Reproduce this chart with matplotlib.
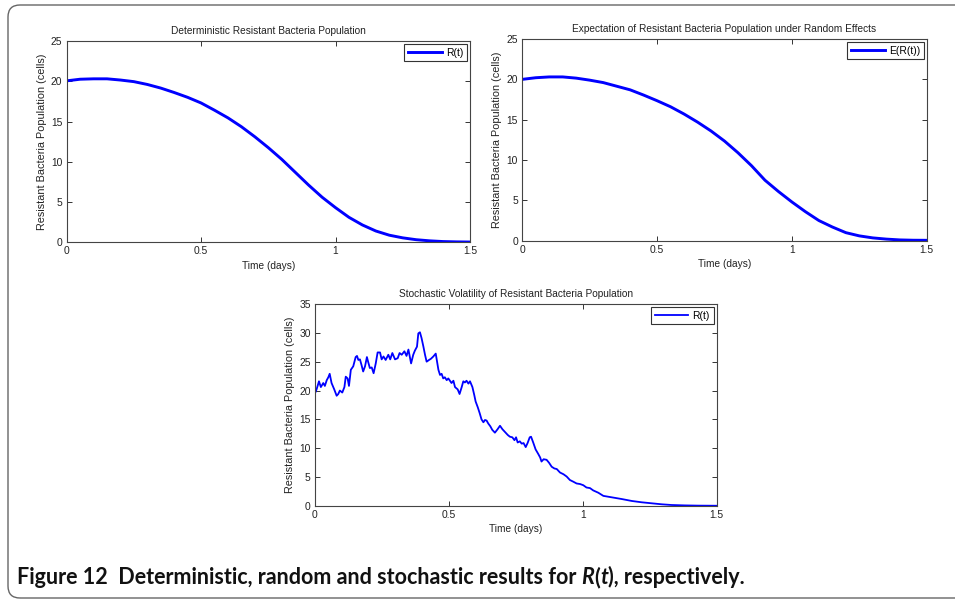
import numpy as np
import matplotlib
matplotlib.use("Agg")
import matplotlib.pyplot as plt
from matplotlib.patches import FancyBboxPatch
from matplotlib.text import Annotation
from matplotlib.transforms import IdentityTransform

plt.rcParams['font.family'] = ['Liberation Sans', 'DejaVu Sans']

# time grid of the deterministic / expectation curves (days)
t_grid = np.linspace(0, 1.5, 31)

# deterministic resistant population R(t)
r_det = [20.05, 20.25, 20.3, 20.3, 20.15, 19.95, 19.6, 19.15, 18.6, 18.0,
         17.3, 16.4, 15.45, 14.35, 13.1, 11.75, 10.3, 8.7, 7.1, 5.6,
         4.3, 3.1, 2.15, 1.4, 0.88, 0.55, 0.32, 0.18, 0.09, 0.05, 0.03]

# expectation E(R(t)) under random effects
r_exp = [20.0, 20.2, 20.3, 20.3, 20.15, 19.9, 19.6, 19.15, 18.7, 18.05,
         17.35, 16.6, 15.7, 14.7, 13.6, 12.35, 10.9, 9.3, 7.5, 6.1,
         4.8, 3.6, 2.5, 1.7, 1.0, 0.6, 0.35, 0.2, 0.1, 0.06, 0.05]

# one stochastic sample path of R(t)
t_sto = [0.000, 0.006, 0.015, 0.022, 0.031, 0.037, 0.044, 0.050, 0.055, 0.062,
         0.072, 0.081, 0.087, 0.093, 0.102, 0.110, 0.115, 0.122, 0.127, 0.134,
         0.143, 0.152, 0.157, 0.162, 0.168, 0.174, 0.180, 0.187, 0.194, 0.199,
         0.205, 0.212, 0.219, 0.227, 0.234, 0.243, 0.249, 0.256, 0.264, 0.274,
         0.281, 0.289, 0.299, 0.309, 0.316, 0.324, 0.334, 0.342, 0.349, 0.359,
         0.367, 0.373, 0.381, 0.386, 0.392, 0.398, 0.405, 0.411, 0.417, 0.426,
         0.433, 0.442, 0.451, 0.456, 0.461, 0.467, 0.473, 0.479, 0.485, 0.492,
         0.498, 0.510, 0.517, 0.523, 0.533, 0.540, 0.548, 0.554, 0.560, 0.566,
         0.573, 0.579, 0.588, 0.595, 0.600, 0.608, 0.615, 0.622, 0.629, 0.635,
         0.641, 0.647, 0.655, 0.662, 0.672, 0.682, 0.691, 0.700, 0.710, 0.720,
         0.728, 0.737, 0.745, 0.751, 0.757, 0.765, 0.772, 0.779, 0.787, 0.794,
         0.802, 0.807, 0.815, 0.824, 0.834, 0.841, 0.846, 0.854, 0.865, 0.874,
         0.884, 0.894, 0.903, 0.915, 0.928, 0.940, 0.952, 0.965, 0.977, 0.990,
         1.002, 1.014, 1.027, 1.039, 1.058, 1.077, 1.108, 1.146, 1.183, 1.220,
         1.257, 1.295, 1.332, 1.381, 1.430, 1.500]
r_sto = [19.5, 20.2, 21.6, 20.6, 21.3, 20.8, 21.8, 22.3, 22.9, 21.3,
         20.2, 19.1, 19.4, 20.0, 19.65, 20.6, 22.4, 22.1, 20.8, 23.6,
         24.2, 25.8, 26.0, 25.3, 25.4, 24.4, 23.3, 24.2, 25.8, 24.9,
         23.9, 24.0, 23.0, 24.7, 26.6, 26.6, 25.4, 25.9, 25.3, 26.2,
         25.4, 26.5, 25.4, 25.6, 26.5, 26.2, 26.8, 26.0, 27.1, 24.7,
         26.2, 26.9, 27.6, 29.9, 30.1, 29.1, 27.6, 26.2, 25.0, 25.3,
         25.5, 25.9, 26.4, 25.0, 23.6, 22.7, 22.9, 22.1, 22.3, 21.8,
         22.1, 21.3, 21.7, 20.6, 20.2, 19.4, 20.6, 21.6, 21.4, 21.7,
         21.2, 21.6, 20.6, 19.2, 18.1, 17.1, 16.1, 15.0, 14.5, 14.9,
         14.8, 14.3, 13.8, 13.2, 12.7, 13.3, 13.9, 13.3, 12.8, 12.3,
         12.0, 11.9, 11.4, 11.9, 11.0, 11.2, 10.8, 10.9, 10.2, 10.9,
         11.9, 12.0, 11.0, 9.8, 9.0, 8.4, 7.7, 8.1, 8.0, 7.5,
         6.8, 6.5, 6.4, 5.8, 5.5, 5.1, 4.5, 4.2, 3.9, 3.8,
         3.6, 3.2, 3.1, 2.7, 2.3, 1.75, 1.5, 1.2, 0.87, 0.64,
         0.46, 0.29, 0.17, 0.10, 0.06, 0.04]

x_ticks = [0, 0.5, 1, 1.5]
x_ticklabels = ['0', '0.5', '1', '1.5']
y_label = 'Resistant Bacteria Population (cells)'
x_label = 'Time (days)'

fs = 7.4
blue = '#0000ff'
ink = '#222222'


def style_axes(ax, ymax, title):
    ax.set_xlim(0, 1.5)
    ax.set_ylim(0, ymax)
    ax.set_xticks(x_ticks)
    ax.set_xticklabels(x_ticklabels)
    ax.set_yticks(np.arange(0, ymax + 1, 5))
    ax.tick_params(direction='in', top=True, right=True, length=3.5,
                   width=0.7, color='#333333', labelsize=fs, pad=3,
                   labelcolor=ink)
    for s in ax.spines.values():
        s.set_color('#444444')
        s.set_linewidth(0.8)
    ax.set_title(title, fontsize=7.3, pad=5, color=ink)
    ax.set_xlabel(x_label, fontsize=7.3, labelpad=3, color=ink)
    ax.set_ylabel(y_label, fontsize=7.8, labelpad=3, color=ink)


def add_legend(ax):
    leg = ax.legend(loc='upper right', fontsize=fs, handlelength=3.3,
                    handletextpad=0.4, borderpad=0.35, borderaxespad=0.3,
                    fancybox=False, framealpha=1, edgecolor='#333333')
    leg.get_frame().set_linewidth(0.8)


fig = plt.figure(figsize=(9.55, 6.0), dpi=100)

ax1 = fig.add_axes([0.0698, 0.5962, 0.4223, 0.3355])
ax1.plot(t_grid, r_det, color=blue, lw=2.1, label='R(t)')
style_axes(ax1, 25, 'Deterministic Resistant Bacteria Population')
add_legend(ax1)

ax2 = fig.add_axes([0.5469, 0.5988, 0.4235, 0.3362])
ax2.plot(t_grid, r_exp, color=blue, lw=2.1, label='E(R(t))')
style_axes(ax2, 25, 'Expectation of Resistant Bacteria Population under Random Effects')
add_legend(ax2)

ax3 = fig.add_axes([0.3298, 0.1567, 0.4206, 0.3367])
ax3.plot(t_sto, r_sto, color=blue, lw=1.3, label='R(t)')
style_axes(ax3, 35, 'Stochastic Volatility of Resistant Bacteria Population')
add_legend(ax3)

# rounded panel frame
frame = FancyBboxPatch((8, 2), 1000, 593,
                       boxstyle='round,pad=0,rounding_size=12',
                       transform=IdentityTransform(), facecolor='none',
                       edgecolor='#666666', lw=1.0)
fig.patches.append(frame)

# caption, with R and t in italics; each piece is placed right after the previous one
cap_kw = dict(fontsize=15.5, fontweight='bold', family=['Lato', 'DejaVu Sans'],
              color='#111111', va='bottom', ha='left')
pieces = [('Figure 12  Deterministic, random and stochastic results for ', 'normal'),
          ('R', 'italic'), ('(', 'normal'), ('t', 'italic'),
          ('), respectively.', 'normal')]
prev = fig.text(17 / 955, 1 - 588 / 600, pieces[0][0], style=pieces[0][1], **cap_kw)
for txt, style in pieces[1:]:
    prev = fig.add_artist(Annotation(txt, xy=(1, 0), xycoords=prev,
                                     style=style, **cap_kw))

fig.savefig('out.png', dpi=100)
